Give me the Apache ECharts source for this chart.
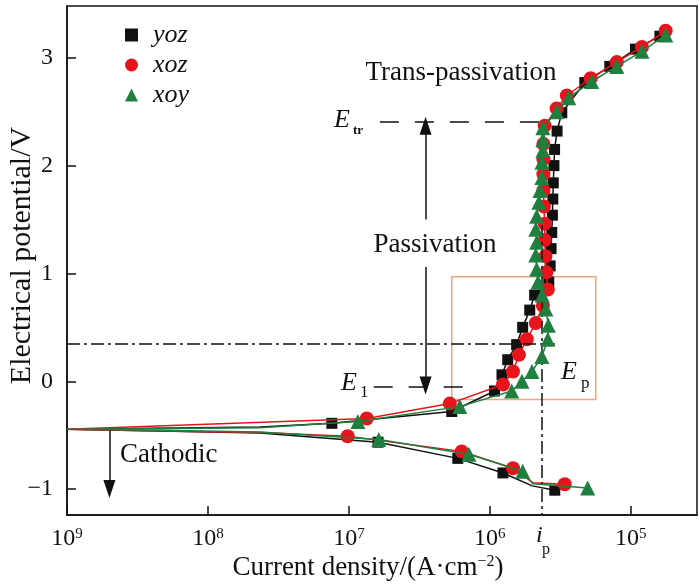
<!DOCTYPE html>
<html>
<head>
<meta charset="utf-8">
<script src="https://cdn.jsdelivr.net/npm/echarts@6.0.0/dist/echarts.min.js"></script>
<style>
html, body { margin: 0; padding: 0; background: #fff; }
#main { width: 700px; height: 584px; }
</style>
</head>
<body>
<div id="main"></div>
<script>
// [current density A/cm2, potential V, 0 = curve vertex without marker]
var yozCurve = [
	[2.89e-6, -1.01], [2.0e-6, -0.97, 0], [1.24e-6, -0.85], [5.93e-7, -0.715], [1.61e-7, -0.565],
	[2.34e-8, -0.48, 0], [4.57e-9, -0.46, 0], [1e-9, -0.445, 0], [2.34e-8, -0.425, 0],
	[7.57e-8, -0.39], [5.37e-7, -0.28], [1.08e-6, -0.09], [1.22e-6, 0.06], [1.34e-6, 0.20],
	[1.55e-6, 0.34], [1.71e-6, 0.50], [1.92e-6, 0.66], [2.08e-6, 0.80], [2.62e-6, 0.92],
	[2.68e-6, 1.07], [2.72e-6, 1.23], [2.75e-6, 1.38], [2.78e-6, 1.54], [2.8e-6, 1.69],
	[2.82e-6, 1.84], [2.85e-6, 2.00], [2.88e-6, 2.15], [3.0e-6, 2.32], [3.24e-6, 2.49],
	[4.72e-6, 2.77], [7.1e-6, 2.92], [1.08e-5, 3.08], [1.61e-5, 3.20]
];
var xozCurve = [
	[3.4e-6, -0.955], [2.02e-6, -0.94, 0], [1.46e-6, -0.807], [6.32e-7, -0.65], [9.8e-8, -0.51],
	[2.34e-8, -0.475, 0], [4.57e-9, -0.46, 0], [1e-9, -0.445, 0],
	[1.34e-7, -0.345], [5.2e-7, -0.207], [1.24e-6, -0.03], [1.46e-6, 0.09], [1.61e-6, 0.245],
	[1.83e-6, 0.39], [2.12e-6, 0.54], [2.38e-6, 0.70], [2.58e-6, 0.85], [2.52e-6, 1.01],
	[2.48e-6, 1.16], [2.45e-6, 1.31], [2.45e-6, 1.46], [2.42e-6, 1.62], [2.4e-6, 1.77],
	[2.4e-6, 1.92], [2.4e-6, 2.06], [2.4e-6, 2.20], [2.45e-6, 2.37], [2.98e-6, 2.53],
	[3.52e-6, 2.65], [5.2e-6, 2.81], [7.96e-6, 2.96], [1.2e-5, 3.10], [1.77e-5, 3.25]
];
var xoyCurve = [
	[4.95e-6, -0.99], [2.02e-6, -0.95, 0], [1.71e-6, -0.835], [7.1e-7, -0.677], [1.63e-7, -0.54],
	[2.34e-8, -0.47, 0], [4.57e-9, -0.455, 0], [1e-9, -0.445, 0], [2.34e-8, -0.43, 0],
	[1.16e-7, -0.373], [6.12e-7, -0.235], [1.43e-6, -0.09], [1.69e-6, 0.0], [1.99e-6, 0.09],
	[2.34e-6, 0.23], [2.58e-6, 0.39], [2.6e-6, 0.52], [2.5e-6, 0.67], [2.35e-6, 0.80],
	[2.2e-6, 0.92], [2.15e-6, 1.04], [2.12e-6, 1.17], [2.15e-6, 1.29], [2.12e-6, 1.41],
	[2.15e-6, 1.53], [2.23e-6, 1.66], [2.27e-6, 1.77], [2.34e-6, 1.89], [2.34e-6, 2.03],
	[2.38e-6, 2.14], [2.38e-6, 2.24], [2.38e-6, 2.35], [2.98e-6, 2.50], [3.63e-6, 2.63],
	[5.28e-6, 2.78], [7.96e-6, 2.92], [1.2e-5, 3.06], [1.77e-5, 3.21]
];
var yTicks = [-1, 0, 1, 2, 3];
var xMin = 1e-9, xMax = Math.pow(10, -4.53);
var yMin = -1.24, yMax = 3.48;

// reference levels
var iP = 2.34e-6;
var eTr = 2.41, e1 = -0.05, eP = 0.35;
var boxX = [5.37e-7, 5.65e-6], boxY = [-0.17, 0.97];

var serif = '"Liberation Serif", "Times New Roman", serif';

function toItems(pts) {
	return pts.map(function(p) {
		return p[2] === 0 ? { value: [p[0], p[1]], symbol: 'none' } : [p[0], p[1]];
	});
}

var dom = document.getElementById('main');
var myChart = echarts.init(dom);

var option = {
	animation: false,
	backgroundColor: '#fff',
	grid: {
		left: 67, right: 3, top: 6, bottom: 69, show: true, borderColor: '#111', borderWidth: 1.5,
		containLabel: false, outerBoundsMode: 'none'
	},
	legend: {
		orient: 'vertical', left: 120, top: 17, itemWidth: 13, itemHeight: 13, itemGap: 4,
		data: [{ name: 'yoz', icon: 'rect' }, { name: 'xoz', icon: 'circle' }, { name: 'xoy', icon: 'triangle' }],
		textStyle: { fontFamily: serif, fontStyle: 'italic', fontSize: 26, lineHeight: 26, color: '#111', padding: [0, 0, 0, 10] }
	},
	xAxis: {
		type: 'log', logBase: 10, min: xMin, max: xMax,
		name: '{a|Current density/(A·cm}{s|−2}{a|)}', nameLocation: 'middle', nameGap: 39,
		nameMoveOverlap: false,
		nameTextStyle: {
			padding: [0, 28, 0, 0],
			rich: {
				a: { fontFamily: serif, fontSize: 27, color: '#111' },
				s: { fontFamily: serif, fontSize: 16, color: '#111', verticalAlign: 'top' }
			}
		},
		axisLine: { onZero: false, lineStyle: { color: '#111', width: 1.5 } },
		axisTick: { inside: true, length: 9, lineStyle: { color: '#111', width: 1.5 } },
		splitLine: { show: false },
		minorTick: { show: false },
		axisLabel: {
			showMaxLabel: false, margin: 12,
			formatter: function(v) {
				return '{b|10}{s|' + Math.round(-Math.log10(v)) + '}';
			},
			rich: {
				b: { fontFamily: serif, fontSize: 24, color: '#111' },
				s: { fontFamily: serif, fontSize: 15, color: '#111', verticalAlign: 'top' }
			}
		}
	},
	yAxis: {
		type: 'value', min: yMin, max: yMax,
		name: 'Electrical potential/V', nameLocation: 'middle', nameGap: 30,
		nameMoveOverlap: false,
		nameTextStyle: { fontFamily: serif, fontSize: 30, color: '#111', padding: [0, 0, 0, 10] },
		axisLine: { onZero: false, lineStyle: { color: '#111', width: 1.5 } },
		axisTick: { inside: true, length: 9, customValues: yTicks, lineStyle: { color: '#111', width: 1.5 } },
		splitLine: { show: false },
		axisLabel: {
			customValues: yTicks, margin: 14, fontFamily: serif, fontSize: 24, color: '#111',
			formatter: function(v) { return v < 0 ? '−' + Math.abs(v) : String(v); }
		}
	},
	series: [
		{
			name: 'yoz', type: 'line', data: toItems(yozCurve), symbol: 'rect', symbolSize: 11,
			showAllSymbol: true, color: '#111', lineStyle: { width: 1.5, color: '#111' }, z: 3,
			markLine: {
				silent: true, symbol: ['none', 'none'], label: { show: false },
				lineStyle: { color: '#111', width: 1.5, type: 'solid' },
				data: [
					[{ coord: [1.66e-7, eTr], lineStyle: { type: [19, 16] } }, { coord: [2.6e-6, eTr] }],
					[{ coord: [1.5e-7, e1], lineStyle: { type: [19, 16] } }, { coord: [7.4e-7, e1] }],
					[{ coord: [xMin, eP], lineStyle: { type: [13, 4, 3, 4] } }, { coord: [2.9e-6, eP] }],
					[{ coord: [iP, 1.45], lineStyle: { type: [13, 4, 3, 4] } }, { coord: [iP, yMin] }],
					[{ coord: [3.5e-7, 1.50] }, { coord: [3.5e-7, 2.37], symbol: 'triangle', symbolSize: [12, 18] }],
					[{ coord: [3.5e-7, 1.06] }, { coord: [3.5e-7, -0.04], symbol: 'triangle', symbolSize: [12, 18] }],
					[{ coord: [2.0e-9, -0.45] }, { coord: [2.0e-9, -1.0], symbol: 'triangle', symbolSize: [12, 18] }]
				]
			},
			markArea: {
				silent: true,
				itemStyle: { color: 'rgba(0,0,0,0)', borderColor: '#f2a47e', borderWidth: 1.5 },
				data: [[{ coord: [boxX[0], boxY[1]] }, { coord: [boxX[1], boxY[0]] }]]
			}
		},
		{
			name: 'xoz', type: 'line', data: toItems(xozCurve), symbol: 'circle', symbolSize: 14,
			showAllSymbol: true, color: '#e8141b', lineStyle: { width: 1.5, color: '#e8141b' }, z: 4
		},
		{
			name: 'xoy', type: 'line', data: toItems(xoyCurve), symbol: 'triangle', symbolSize: 15,
			showAllSymbol: true, color: '#1f7f3f', lineStyle: { width: 1.5, color: '#1f7f3f' }, z: 5
		}
	]
};

function txt(text, x, y, size, style, align) {
	return {
		type: 'text', x: x, y: y, z: 100,
		style: {
			text: text, fill: '#111', align: align || 'left', verticalAlign: 'middle',
			font: (style || 'normal') + ' ' + size + 'px ' + serif
		}
	};
}

option.graphic = [
	txt('Trans-passivation', 461, 73, 27, 'normal', 'center'),
	txt('Passivation', 435, 245, 27, 'normal', 'center'),
	txt('Cathodic', 120, 455, 27, 'normal', 'left'),
	txt('E', 334, 120, 26, 'italic'),
	txt('tr', 353, 131, 13, 'bold'),
	txt('E', 341, 383, 26, 'italic'),
	txt('1', 360, 393, 17, 'normal'),
	txt('E', 561, 372, 26, 'italic'),
	txt('p', 581, 384, 17, 'normal'),
	txt('i', 536, 536, 24, 'italic'),
	txt('p', 542, 550, 16, 'normal')
];

if (option && typeof option === 'object') {
	myChart.setOption(option);
}
</script>
</body>
</html>
